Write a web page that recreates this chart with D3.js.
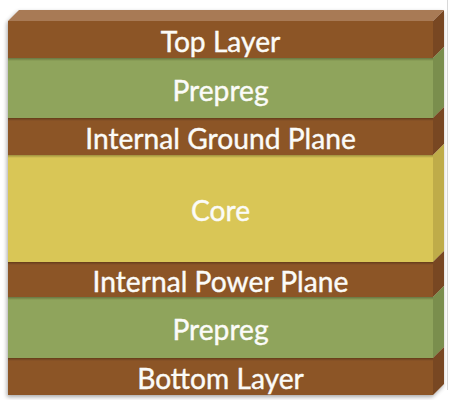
<!DOCTYPE html>
<html><head><meta charset="utf-8">
<script src="https://cdn.jsdelivr.net/npm/d3@7"></script>
<style>html,body{margin:0;padding:0;background:#fff;}svg{display:block;}</style>
</head><body>
<svg id="c" width="449" height="400"></svg>
<script>
const layerNames = ["Top Layer","Prepreg","Internal Ground Plane","Core","Internal Power Plane","Prepreg","Bottom Layer"];
const layerTypes = ["copper","prepreg","copper","core","copper","prepreg","copper"];
const layerThickness = [37, 60, 37, 107, 35, 61, 37];

const palette = {
  copper:  {front:"#8c5527", side:"#784620", top:"#a87a55"},
  prepreg: {front:"#8fa45b", side:"#7a8e4e", top:"#a3b573"},
  core:    {front:"#d9c656", side:"#bfac4a", top:"#e2d47a"}
};

const svg = d3.select("#c");
const x0 = 8, x1 = 433, dx = 11, dy = 11;
const total = d3.sum(layerThickness);
const y = d3.scaleLinear().domain([0,total]).range([21,395]);
const cum = d3.cumsum([0, ...layerThickness]);
const layers = layerNames.map((n,i)=>({name:n,type:layerTypes[i],a:cum[i],b:cum[i+1],i}));

const defs = svg.append("defs");
const f = defs.append("filter").attr("id","sh").attr("x","-10%").attr("y","-10%").attr("width","120%").attr("height","120%");
f.append("feGaussianBlur").attr("in","SourceAlpha").attr("stdDeviation",2);
f.append("feOffset").attr("dx",-1).attr("dy",2).attr("result","o");
f.append("feComponentTransfer").append("feFuncA").attr("type","linear").attr("slope",0.35);
const m = f.append("feMerge"); m.append("feMergeNode"); m.append("feMergeNode").attr("in","SourceGraphic");

const g0 = defs.append("linearGradient").attr("id","topsh").attr("x1",0).attr("x2",0).attr("y1",0).attr("y2",1);
g0.append("stop").attr("offset","0%").attr("stop-color","#000").attr("stop-opacity",0.28);
g0.append("stop").attr("offset","100%").attr("stop-color","#000").attr("stop-opacity",0);

svg.append("line").attr("x1",447.5).attr("x2",447.5).attr("y1",0).attr("y2",390).attr("stroke","#d8d8d8").attr("stroke-width",1);

const g = svg.append("g").attr("filter","url(#sh)");

layers.forEach(d=>{
  const ya = y(d.a), yb = y(d.b), c = palette[d.type];
  g.append("rect").attr("x",x0).attr("y",ya).attr("width",x1-x0).attr("height",yb-ya).attr("fill",c.front);
  g.append("path").attr("d",`M${x1},${ya}L${x1+dx},${ya-dy}L${x1+dx},${yb-dy}L${x1},${yb}Z`).attr("fill",c.side);
  if(d.i>0){
    g.append("rect").attr("x",x0).attr("y",ya).attr("width",x1-x0).attr("height",3).attr("fill","url(#topsh)");
  }
});
const tl = layers[0], c0 = palette[tl.type];
g.append("path").attr("d",`M${x0},${y(0)}L${x0+dx},${y(0)-dy}L${x1+dx},${y(0)-dy}L${x1},${y(0)}Z`).attr("fill",c0.top);

svg.append("g").selectAll("text").data(layers).join("text")
  .attr("x",(x0+x1)/2)
  .attr("y",d=>(y(d.a)+y(d.b))/2 + 12.5)
  .attr("text-anchor","middle")
  .attr("font-family","Lato, 'Open Sans', sans-serif")
  .attr("font-size",28.2)
  .attr("fill","#fbfbf8")
  .attr("stroke","#fbfbf8").attr("stroke-width",0.4)
  .text(d=>d.name);
</script>
</body></html>
